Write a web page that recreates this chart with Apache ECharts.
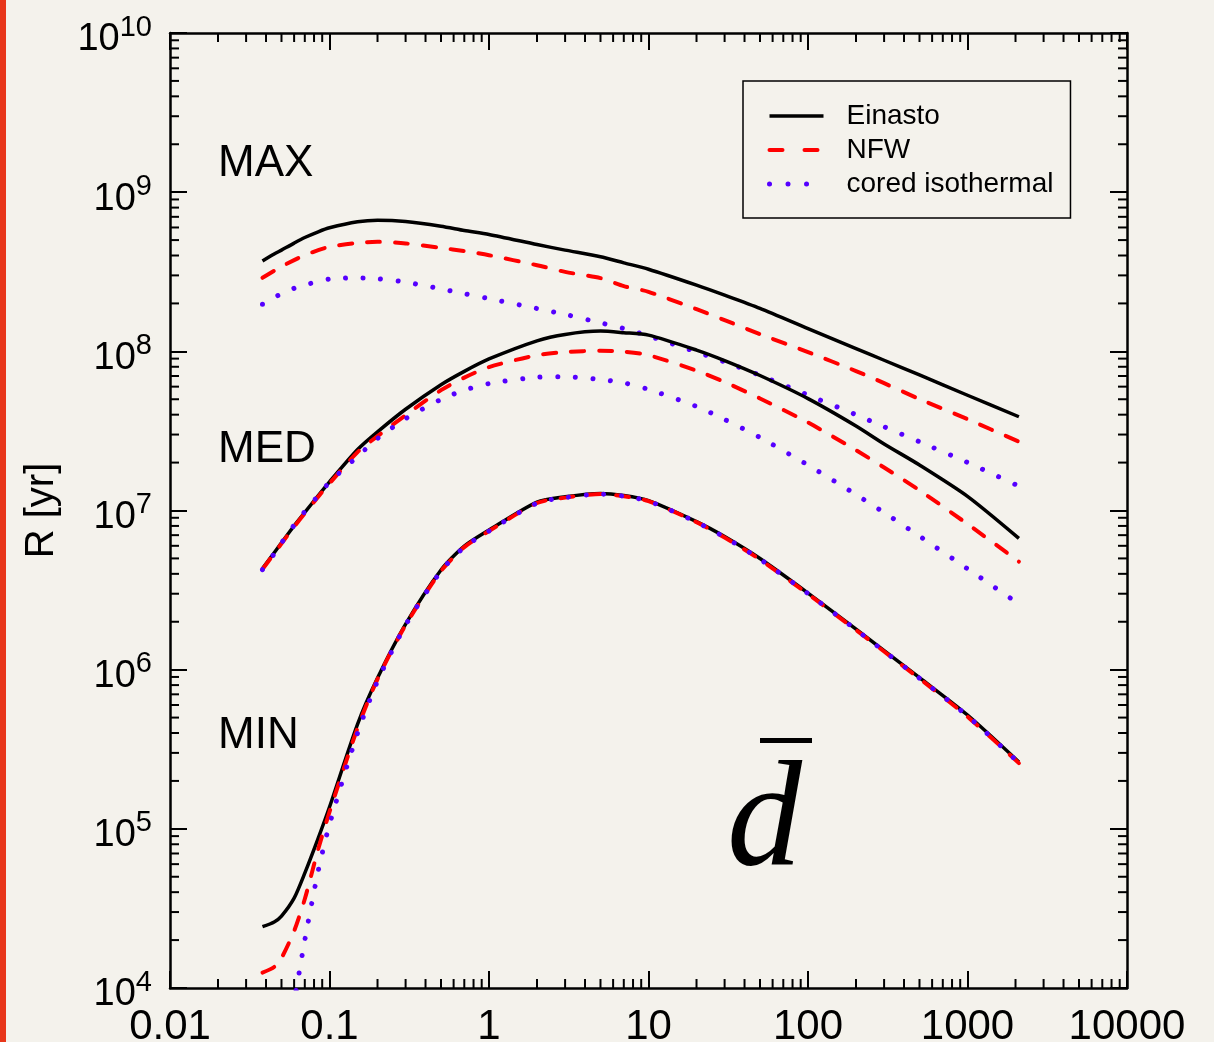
<!DOCTYPE html>
<html>
<head>
<meta charset="utf-8">
<script src="https://cdn.jsdelivr.net/npm/echarts@6/dist/echarts.min.js"></script>
<style>
  html, body { margin: 0; padding: 0; background: #f4f2ec; }
  #chart { width: 1214px; height: 1042px; }
</style>
</head>
<body>
<div id="chart"></div>
<script>
// x values: mean distance d-bar
const X = [0.038, 0.045, 0.05, 0.06, 0.07, 0.085, 0.1, 0.15, 0.2, 0.3, 0.5, 0.7, 1, 2, 3, 5, 7, 10, 20, 30, 50, 100, 200, 300, 500, 1000, 2100];

// log10 of R [yr]
const maxEinastoLog = [8.567, 8.611, 8.636, 8.680, 8.715, 8.751, 8.776, 8.814, 8.824, 8.816, 8.786, 8.759, 8.734, 8.671, 8.636, 8.594, 8.556, 8.516, 8.416, 8.353, 8.270, 8.143, 8.017, 7.944, 7.852, 7.724, 7.589];
const maxNFWLog     = [8.462, 8.506, 8.533, 8.573, 8.604, 8.636, 8.656, 8.682, 8.688, 8.678, 8.650, 8.630, 8.604, 8.541, 8.499, 8.460, 8.410, 8.374, 8.265, 8.196, 8.108, 7.995, 7.876, 7.800, 7.700, 7.574, 7.432];
const maxIsoLog     = [8.296, 8.338, 8.362, 8.396, 8.418, 8.438, 8.454, 8.462, 8.456, 8.435, 8.392, 8.362, 8.331, 8.269, 8.232, 8.179, 8.143, 8.097, 7.996, 7.934, 7.849, 7.725, 7.602, 7.526, 7.432, 7.302, 7.153];

const medEinastoLog = [6.636, 6.735, 6.797, 6.904, 6.988, 7.094, 7.180, 7.383, 7.494, 7.636, 7.790, 7.874, 7.952, 8.066, 8.106, 8.127, 8.117, 8.102, 8.008, 7.942, 7.848, 7.703, 7.531, 7.418, 7.286, 7.089, 6.825];
const medNFWLog     = [6.631, 6.730, 6.792, 6.898, 6.982, 7.087, 7.170, 7.367, 7.467, 7.599, 7.756, 7.835, 7.901, 7.976, 7.995, 8.004, 7.998, 7.976, 7.879, 7.807, 7.704, 7.553, 7.379, 7.270, 7.127, 6.915, 6.679];
const medIsoLog     = [6.628, 6.728, 6.796, 6.908, 6.994, 7.094, 7.178, 7.339, 7.452, 7.577, 7.698, 7.756, 7.797, 7.837, 7.840, 7.823, 7.802, 7.761, 7.654, 7.572, 7.459, 7.285, 7.100, 6.987, 6.839, 6.634, 6.413];

const minEinastoLog = [4.385, 4.415, 4.452, 4.565, 4.722, 4.942, 5.137, 5.658, 5.947, 6.286, 6.626, 6.776, 6.877, 7.053, 7.086, 7.107, 7.094, 7.062, 6.930, 6.836, 6.698, 6.481, 6.255, 6.120, 5.950, 5.715, 5.420];
const minNFWLog     = [4.097, 4.132, 4.188, 4.358, 4.559, 4.873, 5.106, 5.633, 5.941, 6.280, 6.619, 6.770, 6.871, 7.047, 7.081, 7.103, 7.090, 7.059, 6.927, 6.830, 6.692, 6.475, 6.249, 6.114, 5.944, 5.705, 5.413];
const minIsoLog     = [2.900, 3.200, 3.450, 3.910, 4.300, 4.737, 5.028, 5.602, 5.928, 6.280, 6.619, 6.770, 6.871, 7.047, 7.081, 7.103, 7.090, 7.059, 6.927, 6.832, 6.694, 6.478, 6.251, 6.116, 5.946, 5.709, 5.415];

const seriesNames = ['Einasto', 'NFW', 'cored isothermal'];
const groupLabels = ['MAX', 'MED', 'MIN'];
const xTickLabels = ['0.01', '0.1', '1', '10', '100', '1000', '10000'];

const FONT = '"Liberation Sans", Arial, Helvetica, sans-serif';
const styles = {
  'Einasto': { color: '#000000', width: 3.5, type: 'solid', cap: 'butt', legendType: 'solid' },
  'NFW': { color: '#ff0000', width: 4, type: [13, 15], cap: 'round', legendType: [13, 22] },
  'cored isothermal': { color: '#5500ff', width: 5, type: [0.01, 17.6], cap: 'round', legendType: [0.01, 18.5] }
};

function pts(logs) { return X.map((x, i) => [x, Math.pow(10, logs[i])]); }

function lineSeries(name, logs) {
  const s = styles[name];
  return {
    name: name, type: 'line', data: pts(logs), symbol: 'none', showSymbol: false,
    smooth: 0.25, clip: true, z: 3,
    lineStyle: { color: s.color, width: s.width, type: s.type, cap: s.cap, join: 'round' },
    itemStyle: { color: s.color }
  };
}

// minor tick positions (2..9 times each decade) – axis decoration
const minorX = [];
for (let e = -2; e < 4; e++) for (let m = 2; m <= 9; m++) minorX.push(m * Math.pow(10, e));
const minorY = [];
for (let e = 4; e < 10; e++) for (let m = 2; m <= 9; m++) minorY.push(m * Math.pow(10, e));

const tickStyle = { stroke: '#000', lineWidth: 2 };
const MINOR = 9;

const chart = echarts.init(document.getElementById('chart'), null, { renderer: 'canvas' });

const option = {
  animation: false,
  backgroundColor: '#f4f2ec',
  grid: { left: 170, right: 87, top: 33, bottom: 54, containLabel: false, outerBoundsMode: 'none' },
  legend: {
    data: seriesNames.map(n => ({
      name: n,
      lineStyle: { width: styles[n].width, type: styles[n].legendType, cap: styles[n].cap, color: styles[n].color }
    })),
    orient: 'vertical',
    left: 743, top: 81,
    padding: [20, 17, 19, 24],
    itemGap: 4,
    itemWidth: 54,
    itemHeight: 20,
    borderColor: '#000', borderWidth: 1.5,
    backgroundColor: 'transparent',
    itemStyle: { color: 'rgba(0,0,0,0)', borderColor: 'rgba(0,0,0,0)', borderWidth: 0 },
    textStyle: { fontSize: 28, fontFamily: FONT, color: '#000', lineHeight: 30, padding: [0, 0, 0, 18] },
    selectedMode: false
  },
  xAxis: [
    {
      type: 'log', logBase: 10, min: 0.01, max: 10000, splitNumber: 6, position: 'bottom',
      axisLine: { lineStyle: { color: '#000', width: 2.5 } },
      axisTick: { inside: true, length: 17, lineStyle: { color: '#000', width: 2 } },
      splitLine: { show: false },
      axisLabel: {
        color: '#000', fontSize: 42, fontFamily: FONT, margin: 18,
        showMinLabel: true, showMaxLabel: true,
        formatter: function (v) {
          const e = Math.round(Math.log10(v));
          return xTickLabels[e + 2];
        }
      }
    },
    {
      type: 'log', logBase: 10, min: 0.01, max: 10000, splitNumber: 6, position: 'top',
      axisLine: { lineStyle: { color: '#000', width: 2.5 } },
      axisTick: { inside: true, length: 17, lineStyle: { color: '#000', width: 2 } },
      splitLine: { show: false },
      axisLabel: { show: false }
    }
  ],
  yAxis: [
    {
      type: 'log', logBase: 10, min: 1e4, max: 1e10, splitNumber: 6, position: 'left',
      name: 'R [yr]', nameLocation: 'middle', nameGap: 108, nameRotate: 90,
      nameTextStyle: { fontSize: 40, fontFamily: FONT, color: '#000' },
      axisLine: { lineStyle: { color: '#000', width: 2.5 } },
      axisTick: { inside: true, length: 17, lineStyle: { color: '#000', width: 2 } },
      splitLine: { show: false },
      axisLabel: {
        color: '#000', margin: 18, showMinLabel: true, showMaxLabel: true,
        formatter: function (v) {
          const e = Math.round(Math.log10(v));
          return '{b|10}{s|' + e + '}';
        },
        rich: {
          b: { fontSize: 38, fontFamily: FONT, color: '#000', verticalAlign: 'bottom' },
          s: { fontSize: 29, fontFamily: FONT, color: '#000', verticalAlign: 'bottom', padding: [6, 0, 17, 0] }
        }
      }
    },
    {
      type: 'log', logBase: 10, min: 1e4, max: 1e10, splitNumber: 6, position: 'right',
      axisLine: { lineStyle: { color: '#000', width: 2.5 } },
      axisTick: { inside: true, length: 17, lineStyle: { color: '#000', width: 2 } },
      splitLine: { show: false },
      axisLabel: { show: false }
    }
  ],
  series: [
    lineSeries('Einasto', maxEinastoLog),
    lineSeries('NFW', maxNFWLog),
    lineSeries('cored isothermal', maxIsoLog),
    lineSeries('Einasto', medEinastoLog),
    lineSeries('NFW', medNFWLog),
    lineSeries('cored isothermal', medIsoLog),
    lineSeries('Einasto', minEinastoLog),
    lineSeries('NFW', minNFWLog),
    lineSeries('cored isothermal', minIsoLog),
    {
      type: 'custom', name: 'minorX', silent: true, clip: false, z: 5,
      data: minorX.map(v => [v, 1e4]),
      renderItem: function (params, api) {
        const v = api.value(0);
        const b = api.coord([v, 1e4]);
        const t = api.coord([v, 1e10]);
        return { type: 'group', children: [
          { type: 'line', shape: { x1: b[0], y1: b[1], x2: b[0], y2: b[1] - MINOR }, style: tickStyle },
          { type: 'line', shape: { x1: t[0], y1: t[1], x2: t[0], y2: t[1] + MINOR }, style: tickStyle }
        ] };
      }
    },
    {
      type: 'custom', name: 'minorY', silent: true, clip: false, z: 5,
      data: minorY.map(v => [0.01, v]),
      renderItem: function (params, api) {
        const v = api.value(1);
        const l = api.coord([0.01, v]);
        const r = api.coord([10000, v]);
        return { type: 'group', children: [
          { type: 'line', shape: { x1: l[0], y1: l[1], x2: l[0] + MINOR, y2: l[1] }, style: tickStyle },
          { type: 'line', shape: { x1: r[0], y1: r[1], x2: r[0] - MINOR, y2: r[1] }, style: tickStyle }
        ] };
      }
    }
  ],
  graphic: [
    { type: 'rect', left: 0, top: 0, shape: { width: 6, height: 1042 }, style: { fill: '#e8361a' }, silent: true },
    { type: 'text', left: 218, top: 161 - 19, style: { text: groupLabels[0], font: '44px ' + FONT, fill: '#000' } },
    { type: 'text', left: 218, top: 447 - 19, style: { text: groupLabels[1], font: '44px ' + FONT, fill: '#000' } },
    { type: 'text', left: 218, top: 733 - 19, style: { text: groupLabels[2], font: '44px ' + FONT, fill: '#000' } },
    { type: 'text', left: 727, top: 750, style: { text: 'd', font: 'italic 150px "Liberation Serif", "DejaVu Serif", serif', fill: '#000' } },
    { type: 'rect', left: 760, top: 738, shape: { width: 52, height: 5 }, style: { fill: '#000' } }
  ]
};

chart.setOption(option);
</script>
</body>
</html>
